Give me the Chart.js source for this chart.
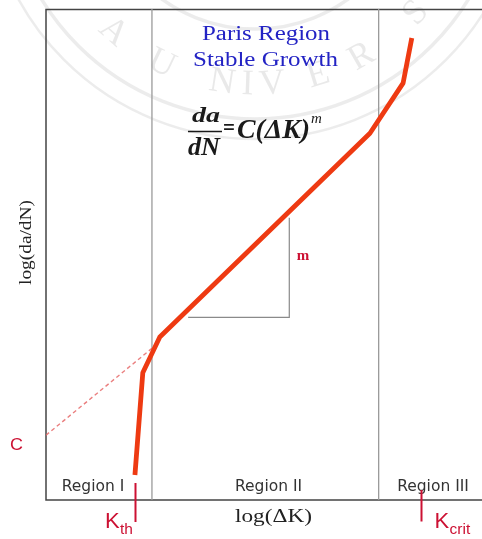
<!DOCTYPE html>
<html>
<head>
<meta charset="utf-8">
<script src="https://cdn.jsdelivr.net/npm/chart.js@4.4.1/dist/chart.umd.min.js"></script>
<style>
  html, body { margin: 0; padding: 0; background: #fff; }
  #wrap { width: 482px; height: 539px; }
</style>
</head>
<body>
<div id="wrap"><canvas id="crackChart" width="482" height="539"></canvas></div>
<script>
// log(dK) / log(da/dN) on a 0..100 schematic scale
const curveLogDK = [20.4, 22.2, 26.1, 74.3, 81.9, 83.9];
const curveLogDadN = [5.1, 25.9, 33.2, 74.7, 84.9, 94.1];
const parisLineLogDK = [0, 25.0];
const parisLineLogDadN = [13.2, 31.4];
const regionEdges = [24.3, 76.3];
const slopeLegDK = [32.6, 55.8, 55.8];
const slopeLegDadN = [37.2, 37.2, 57.5];
const kMarks = [20.4, 85.9]; // K_th, K_crit
const regionNames = ['Region I', 'Region II', 'Region III'];

const RED = '#cc1133';
const CURVE = '#ee3a12';

function toPoints(xs, ys) {
  return xs.map((x, i) => ({ x: x, y: ys[i] }));
}

function text(ctx, str, x, y, font, color, align, width) {
  ctx.save();
  ctx.font = font;
  ctx.fillStyle = color;
  ctx.textAlign = align || 'center';
  ctx.textBaseline = 'alphabetic';
  if (width) {
    const w = ctx.measureText(str).width;
    ctx.translate(x, y);
    ctx.scale(width / w, 1);
    ctx.fillText(str, 0, 0);
  } else {
    ctx.fillText(str, x, y);
  }
  ctx.restore();
}

// faint seal behind the plot
const sealPlugin = {
  id: 'seal',
  beforeDraw(chart) {
    const ctx = chart.ctx;
    const cx = 255, cy = -131;
    ctx.save();
    ctx.strokeStyle = 'rgba(110,110,110,0.13)';
    [[160, 3.5], [250, 3.5], [270, 2.5]].forEach(([r, w]) => {
      ctx.lineWidth = w;
      ctx.beginPath();
      ctx.arc(cx, cy, r, 0, Math.PI * 2);
      ctx.stroke();
    });
    const letters = ['E', 'A', 'U', 'N', 'I', 'V', 'E', 'R', 'S'];
    const angles = [149, 131, 115.6, 98.8, 92, 85.4, 73, 60.4, 41.8];
    ctx.fillStyle = 'rgba(110,110,110,0.15)';
    ctx.font = '36px "Liberation Serif"';
    ctx.textAlign = 'center';
    ctx.textBaseline = 'middle';
    letters.forEach((ch, i) => {
      const a = angles[i] * Math.PI / 180;
      ctx.save();
      ctx.translate(cx + 216 * Math.cos(a), cy + 216 * Math.sin(a));
      ctx.rotate(a - Math.PI / 2);
      ctx.fillText(ch, 0, 0);
      ctx.restore();
    });
    ctx.restore();
  }
};

// plot frame: top, left and bottom edges
const framePlugin = {
  id: 'frame',
  beforeDatasetsDraw(chart) {
    const { ctx, chartArea: a } = chart;
    ctx.save();
    ctx.strokeStyle = '#444';
    ctx.lineWidth = 1.5;
    ctx.beginPath();
    ctx.moveTo(a.right, a.top + 0.5);
    ctx.lineTo(a.left, a.top + 0.5);
    ctx.lineTo(a.left, a.bottom);
    ctx.lineTo(a.right, a.bottom);
    ctx.stroke();
    ctx.restore();
  }
};

const labelPlugin = {
  id: 'labels',
  afterDraw(chart) {
    const ctx = chart.ctx;
    const xs = chart.scales.x;

    const serif = '"Liberation Serif"';
    text(ctx, 'Paris Region', 266, 39.5, '20px ' + serif, '#2323c4', 'center', 128);
    text(ctx, 'Stable Growth', 265.5, 65.5, '20px ' + serif, '#2323c4', 'center', 145);

    // da/dN = C(dK)^m
    const f = '#1a1a1a';
    text(ctx, 'da', 206, 122, 'bold italic 22px ' + serif, f, 'center', 28);
    ctx.save();
    ctx.strokeStyle = f;
    ctx.lineWidth = 1.3;
    ctx.beginPath();
    ctx.moveTo(188, 131.5);
    ctx.lineTo(222, 131.5);
    ctx.stroke();
    ctx.restore();
    text(ctx, 'dN', 204, 154.5, 'bold italic 25px ' + serif, f, 'center', 32);
    text(ctx, '=', 223, 135, 'bold 24px ' + serif, f, 'left', 12);
    text(ctx, 'C(\u0394K)', 237, 138, 'bold italic 27px ' + serif, f, 'left', 73);
    text(ctx, 'm', 311, 123, 'italic 15px ' + serif, f, 'left');

    text(ctx, 'm', 303, 260, 'bold 15px ' + serif, RED, 'center');

    // region names
    const regionX = [93, 268.5, 433];
    regionNames.forEach((n, i) => {
      text(ctx, n, regionX[i], 491, '15.5px "DejaVu Sans"', '#333', 'center');
    });

    // axis titles
    text(ctx, 'log(\u0394K)', 273.5, 521.5, '19px ' + serif, '#222', 'center', 77);
    ctx.save();
    ctx.translate(31, 242.5);
    ctx.rotate(-Math.PI / 2);
    text(ctx, 'log(da/dN)', 0, 0, '17px ' + serif, '#222', 'center', 85);
    ctx.restore();

    // intercept C
    text(ctx, 'C', 10, 449.5, '17px "Liberation Sans"', RED, 'left', 13);

    // threshold and critical K marks
    ctx.save();
    ctx.strokeStyle = RED;
    ctx.lineWidth = 2;
    const tickSpan = [[483, 522], [490, 521.5]];
    kMarks.forEach((k, i) => {
      const px = Math.round(xs.getPixelForValue(k)) + 0.5;
      ctx.beginPath();
      ctx.moveTo(px, tickSpan[i][0]);
      ctx.lineTo(px, tickSpan[i][1]);
      ctx.stroke();
    });
    ctx.restore();
    const kth = xs.getPixelForValue(kMarks[0]);
    const kcr = xs.getPixelForValue(kMarks[1]);
    text(ctx, 'K', kth - 30, 528, '22px "Liberation Sans"', RED, 'left');
    text(ctx, 'th', kth - 15, 533.5, '15.5px "Liberation Sans"', RED, 'left');
    text(ctx, 'K', kcr + 14, 528, '22px "Liberation Sans"', RED, 'left');
    text(ctx, 'crit', kcr + 29, 533.5, '15.5px "Liberation Sans"', RED, 'left');
  }
};

new Chart(document.getElementById('crackChart').getContext('2d'), {
  type: 'scatter',
  data: {
    datasets: [
      {
        label: 'crack growth',
        data: toPoints(curveLogDK, curveLogDadN),
        showLine: true,
        borderColor: CURVE,
        borderWidth: 4.8,
        borderCapStyle: 'butt',
        borderJoinStyle: 'round',
        pointRadius: 0
      },
      {
        label: 'Paris extension',
        data: toPoints(parisLineLogDK, parisLineLogDadN),
        showLine: true,
        borderColor: 'rgba(230,105,105,0.85)',
        borderWidth: 1.4,
        borderDash: [4, 3],
        pointRadius: 0
      },
      {
        label: 'slope',
        data: toPoints(slopeLegDK, slopeLegDadN),
        showLine: true,
        borderColor: '#8a8a8a',
        borderWidth: 1.2,
        pointRadius: 0
      },
      ...regionEdges.map(x => ({
        label: 'region edge',
        data: [{ x: x, y: 0 }, { x: x, y: 100 }],
        showLine: true,
        borderColor: '#9a9a9a',
        borderWidth: 1.3,
        pointRadius: 0
      }))
    ]
  },
  options: {
    responsive: false,
    animation: false,
    events: [],
    layout: { padding: { left: 46, top: 9, right: 0, bottom: 39 } },
    scales: {
      x: { type: 'linear', min: 0, max: 100, display: false },
      y: { type: 'linear', min: 0, max: 100, display: false }
    },
    plugins: {
      legend: { display: false },
      tooltip: { enabled: false }
    }
  },
  plugins: [sealPlugin, framePlugin, labelPlugin]
});
</script>
</body>
</html>
